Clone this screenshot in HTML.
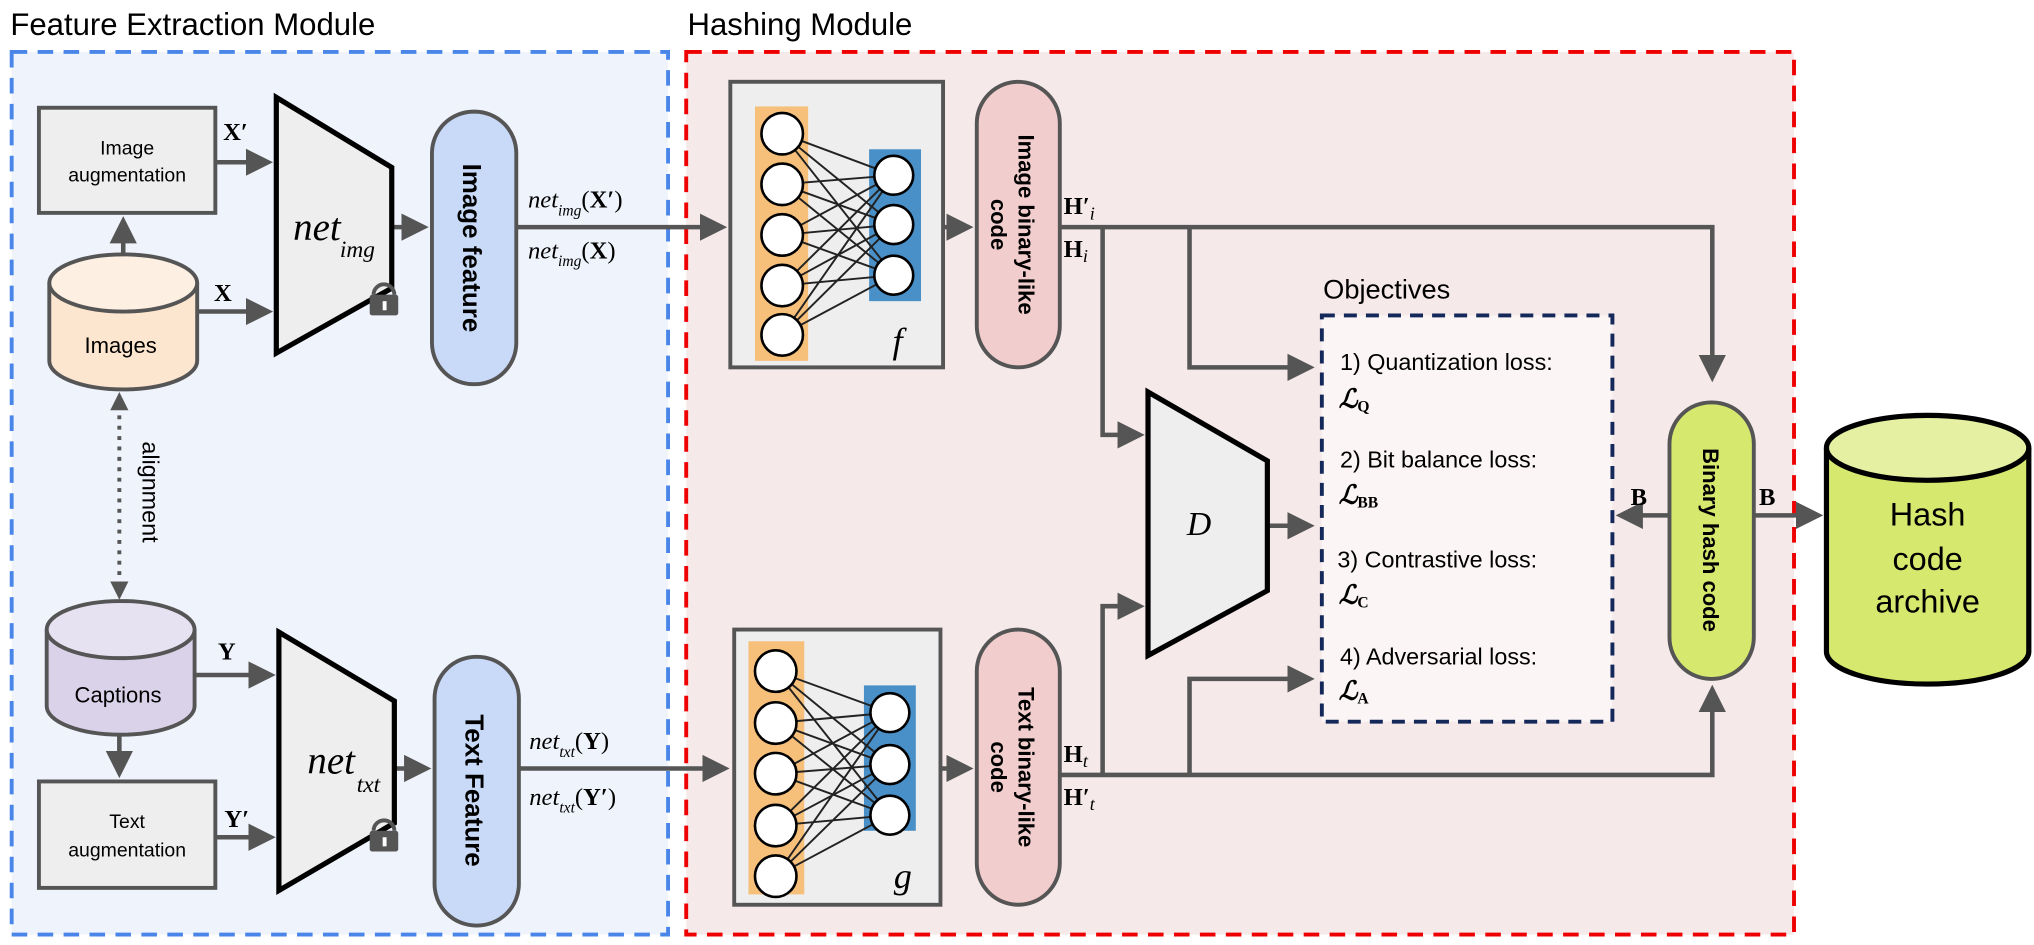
<!DOCTYPE html>
<html><head><meta charset="utf-8"><style>
html,body{margin:0;padding:0;background:#fff;}
svg{display:block;}
.s{font-family:"Liberation Sans",sans-serif;}
.m{font-family:"Liberation Serif",serif;}
</style></head><body>
<svg width="2034" height="945" viewBox="0 0 1568 728" preserveAspectRatio="none" xmlns="http://www.w3.org/2000/svg">
<defs>
<marker id="ah" markerWidth="6" markerHeight="6" refX="5" refY="3" orient="auto" markerUnits="strokeWidth">
<path d="M0,0 L6,3 L0,6 z" fill="#555"/></marker>
</defs>
<text x="8" y="27" class="s" font-size="24" fill="#000">Feature Extraction Module</text>
<text x="530" y="27" class="s" font-size="24" fill="#000">Hashing Module</text>
<rect x="9" y="40" width="506" height="680" fill="#eff3fc" stroke="#4a86e8" stroke-width="3" stroke-dasharray="12,8"/>
<rect x="529" y="40" width="854" height="680" fill="#f5e9ea" stroke="#e00" stroke-width="3" stroke-dasharray="12,8"/>

<g stroke="#555" stroke-width="3.5" fill="none">
<line x1="166" y1="125" x2="207" y2="125" marker-end="url(#ah)"/>
<line x1="152" y1="240" x2="207" y2="240" marker-end="url(#ah)"/>
<line x1="95" y1="196" x2="95" y2="170" marker-end="url(#ah)"/>
<line x1="150" y1="520" x2="209" y2="520" marker-end="url(#ah)"/>
<line x1="92" y1="566" x2="92" y2="596" marker-end="url(#ah)"/>
<line x1="166" y1="645" x2="209" y2="645" marker-end="url(#ah)"/>
<line x1="300" y1="175" x2="327" y2="175" marker-end="url(#ah)"/>
<line x1="302" y1="592" x2="329" y2="592" marker-end="url(#ah)"/>
<line x1="398" y1="175" x2="557" y2="175" marker-end="url(#ah)"/>
<line x1="400" y1="592" x2="559" y2="592" marker-end="url(#ah)"/>
<line x1="92" y1="312" x2="92" y2="452" stroke-dasharray="3,5" stroke-width="3"/>
<line x1="727" y1="175" x2="747" y2="175" marker-end="url(#ah)"/>
<line x1="725" y1="592" x2="747" y2="592" marker-end="url(#ah)"/>
<polyline points="817,175 1320,175 1320,291" marker-end="url(#ah)"/>
<polyline points="850,175 850,335 879,335" marker-end="url(#ah)"/>
<polyline points="917,175 917,283 1010,283" marker-end="url(#ah)"/>
<polyline points="817,597 1320,597 1320,531" marker-end="url(#ah)"/>
<polyline points="850,597 850,467 879,467" marker-end="url(#ah)"/>
<polyline points="917,597 917,523 1010,523" marker-end="url(#ah)"/>
<line x1="977" y1="405" x2="1010" y2="405" marker-end="url(#ah)"/>
<line x1="1287" y1="397" x2="1249" y2="397" marker-end="url(#ah)"/>
<line x1="1352" y1="397" x2="1402" y2="397" marker-end="url(#ah)"/>
</g>
<path d="M92,302 L85,316 L99,316 z" fill="#555"/>
<path d="M92,462 L85,448 L99,448 z" fill="#555"/>
<text transform="translate(110,340) rotate(90)" class="s" font-size="18">alignment</text>

<rect x="30" y="83" width="136" height="81" fill="#eee" stroke="#555" stroke-width="3"/>
<text x="98" y="119" class="s" font-size="15" text-anchor="middle">Image</text>
<text x="98" y="140" class="s" font-size="15" text-anchor="middle">augmentation</text>
<rect x="30" y="602" width="136" height="82" fill="#eee" stroke="#555" stroke-width="3"/>
<text x="98" y="638" class="s" font-size="15" text-anchor="middle">Text</text>
<text x="98" y="660" class="s" font-size="15" text-anchor="middle">augmentation</text>

<path d="M38,218 L38,278 A57,22 0 0 0 152,278 L152,218" fill="#fde6cf" stroke="#555" stroke-width="3"/>
<ellipse cx="95" cy="218" rx="57" ry="22" fill="#fdefe2" stroke="#555" stroke-width="3"/>
<text x="93" y="272" class="s" font-size="17" text-anchor="middle">Images</text>
<path d="M36,485 L36,544 A57,22 0 0 0 150,544 L150,485" fill="#d9d2e9" stroke="#555" stroke-width="3"/>
<ellipse cx="93" cy="485" rx="57" ry="22" fill="#e7e2f2" stroke="#555" stroke-width="3"/>
<text x="91" y="541" class="s" font-size="17" text-anchor="middle">Captions</text>

<polygon points="213,75 302,129 302,222 213,272" fill="#eee" stroke="#000" stroke-width="4"/>
<text x="226" y="185" class="m" font-size="30" font-style="italic">net</text>
<text x="262" y="198" class="m" font-size="18" font-style="italic">img</text>
<polygon points="215,487 304,540 304,634 215,686" fill="#eee" stroke="#000" stroke-width="4"/>
<text x="237" y="596" class="m" font-size="30" font-style="italic">net</text>
<text x="275" y="610" class="m" font-size="18" font-style="italic">txt</text>
<g fill="#555">
<path d="M288,227 a8,8 0 0 1 16,0" fill="none" stroke="#555" stroke-width="3"/>
<rect x="285" y="227" width="22" height="16" rx="2"/>
<path d="M288,640 a8,8 0 0 1 16,0" fill="none" stroke="#555" stroke-width="3"/>
<rect x="285" y="640" width="22" height="16" rx="2"/>
</g>
<rect x="295" y="232" width="3" height="7" fill="#fff"/>
<rect x="295" y="645" width="3" height="7" fill="#fff"/>

<rect x="333" y="86" width="65" height="210" rx="32" fill="#c9daf8" stroke="#555" stroke-width="3"/>
<text transform="translate(357,191) rotate(90)" class="s" font-size="20" font-weight="bold" text-anchor="middle">Image feature</text>
<rect x="335" y="506" width="65" height="207" rx="32" fill="#c9daf8" stroke="#555" stroke-width="3"/>
<text transform="translate(359,609) rotate(90)" class="s" font-size="20" font-weight="bold" text-anchor="middle">Text Feature</text>

<g class="m" font-size="19">
<text x="172" y="108" font-weight="bold">X′</text>
<text x="165" y="232" font-weight="bold">X</text>
<text x="168" y="508" font-weight="bold">Y</text>
<text x="173" y="637" font-weight="bold">Y′</text>
<text x="407" y="160"><tspan font-style="italic">net</tspan><tspan font-size="12" dy="6" font-style="italic">img</tspan><tspan dy="-6">(</tspan><tspan font-weight="bold">X′</tspan>)</text>
<text x="407" y="199"><tspan font-style="italic">net</tspan><tspan font-size="12" dy="6" font-style="italic">img</tspan><tspan dy="-6">(</tspan><tspan font-weight="bold">X</tspan>)</text>
<text x="408" y="577"><tspan font-style="italic">net</tspan><tspan font-size="12" dy="6" font-style="italic">txt</tspan><tspan dy="-6">(</tspan><tspan font-weight="bold">Y</tspan>)</text>
<text x="408" y="620"><tspan font-style="italic">net</tspan><tspan font-size="12" dy="6" font-style="italic">txt</tspan><tspan dy="-6">(</tspan><tspan font-weight="bold">Y′</tspan>)</text>
<text x="820" y="165"><tspan font-weight="bold">H′</tspan><tspan font-style="italic" font-size="14" dy="4">i</tspan></text>
<text x="820" y="198"><tspan font-weight="bold">H</tspan><tspan font-style="italic" font-size="14" dy="4">i</tspan></text>
<text x="820" y="587"><tspan font-weight="bold">H</tspan><tspan font-style="italic" font-size="14" dy="4">t</tspan></text>
<text x="820" y="620"><tspan font-weight="bold">H′</tspan><tspan font-style="italic" font-size="14" dy="4">t</tspan></text>
<text x="1257" y="389" font-weight="bold">B</text>
<text x="1356" y="389" font-weight="bold">B</text>
</g>

<rect x="563" y="63" width="164" height="220" fill="#eee" stroke="#555" stroke-width="3"/>
<rect x="582" y="82" width="41" height="196" fill="#f6c07b"/>
<rect x="670" y="115" width="40" height="117" fill="#4a90c8"/>
<g stroke="#222" stroke-width="1.5">
<path d="M603,103L689,135M603,103L689,173M603,103L689,212M603,142L689,135M603,142L689,173M603,142L689,212M603,181L689,135M603,181L689,173M603,181L689,212M603,220L689,135M603,220L689,173M603,220L689,212M603,258L689,135M603,258L689,173M603,258L689,212"/>
</g>
<g fill="#fff" stroke="#000" stroke-width="2">
<circle cx="603" cy="103" r="16"/><circle cx="603" cy="142" r="16"/><circle cx="603" cy="181" r="16"/><circle cx="603" cy="220" r="16"/><circle cx="603" cy="258" r="16"/>
<circle cx="689" cy="135" r="15"/><circle cx="689" cy="173" r="15"/><circle cx="689" cy="212" r="15"/>
</g>
<text x="688" y="272" class="m" font-size="28" font-style="italic">f</text>

<rect x="566" y="485" width="159" height="212" fill="#eee" stroke="#555" stroke-width="3"/>
<rect x="577" y="494" width="43" height="195" fill="#f6c07b"/>
<rect x="666" y="528" width="40" height="112" fill="#4a90c8"/>
<g stroke="#222" stroke-width="1.5">
<path d="M598,517L686,549M598,517L686,589M598,517L686,628M598,557L686,549M598,557L686,589M598,557L686,628M598,596L686,549M598,596L686,589M598,596L686,628M598,636L686,549M598,636L686,589M598,636L686,628M598,675L686,549M598,675L686,589M598,675L686,628"/>
</g>
<g fill="#fff" stroke="#000" stroke-width="2">
<circle cx="598" cy="517" r="16"/><circle cx="598" cy="557" r="16"/><circle cx="598" cy="596" r="16"/><circle cx="598" cy="636" r="16"/><circle cx="598" cy="675" r="16"/>
<circle cx="686" cy="549" r="15"/><circle cx="686" cy="589" r="15"/><circle cx="686" cy="628" r="15"/>
</g>
<text x="689" y="684" class="m" font-size="28" font-style="italic">g</text>

<rect x="753" y="63" width="64" height="220" rx="32" fill="#f2cdcd" stroke="#555" stroke-width="3"/>
<text transform="translate(785,173) rotate(90)" class="s" font-size="17" font-weight="bold" text-anchor="middle">Image binary-like</text>
<text transform="translate(764,173) rotate(90)" class="s" font-size="17" font-weight="bold" text-anchor="middle">code</text>
<rect x="753" y="485" width="64" height="212" rx="32" fill="#f2cdcd" stroke="#555" stroke-width="3"/>
<text transform="translate(785,591) rotate(90)" class="s" font-size="17" font-weight="bold" text-anchor="middle">Text binary-like</text>
<text transform="translate(764,591) rotate(90)" class="s" font-size="17" font-weight="bold" text-anchor="middle">code</text>

<polygon points="885,302 977,355 977,455 885,505" fill="#eee" stroke="#000" stroke-width="4"/>
<text x="915" y="412" class="m" font-size="26" font-style="italic">D</text>

<text x="1020" y="230" class="s" font-size="21">Objectives</text>
<rect x="1019" y="243" width="224" height="313" fill="#fbf5f5" stroke="#14285a" stroke-width="3" stroke-dasharray="10,7"/>
<g class="s" font-size="18">
<text x="1033" y="285">1) Quantization loss:</text>
<text x="1033" y="360">2) Bit balance loss:</text>
<text x="1031" y="437">3) Contrastive loss:</text>
<text x="1033" y="512">4) Adversarial loss:</text>
</g>
<g class="m" font-weight="bold" font-style="italic" font-size="20">
<text x="1032" y="314">ℒ<tspan font-size="12" font-style="normal" dy="3">Q</tspan></text>
<text x="1032" y="388">ℒ<tspan font-size="12" font-style="normal" dy="3">BB</tspan></text>
<text x="1032" y="465">ℒ<tspan font-size="12" font-style="normal" dy="3">C</tspan></text>
<text x="1032" y="539">ℒ<tspan font-size="12" font-style="normal" dy="3">A</tspan></text>
</g>

<rect x="1287" y="310" width="65" height="213" rx="32" fill="#d6e86e" stroke="#555" stroke-width="3"/>
<text transform="translate(1313,416) rotate(90)" class="s" font-size="17" font-weight="bold" text-anchor="middle">Binary hash code</text>

<path d="M1408,345 L1408,502 A78,25 0 0 0 1564,502 L1564,345" fill="#d6e86e" stroke="#000" stroke-width="4"/>
<ellipse cx="1486" cy="345" rx="78" ry="25" fill="#e5f0a2" stroke="#000" stroke-width="4"/>
<g class="s" font-size="25" text-anchor="middle">
<text x="1486" y="405">Hash</text>
<text x="1486" y="439">code</text>
<text x="1486" y="472">archive</text>
</g>
</svg>
</body></html>
